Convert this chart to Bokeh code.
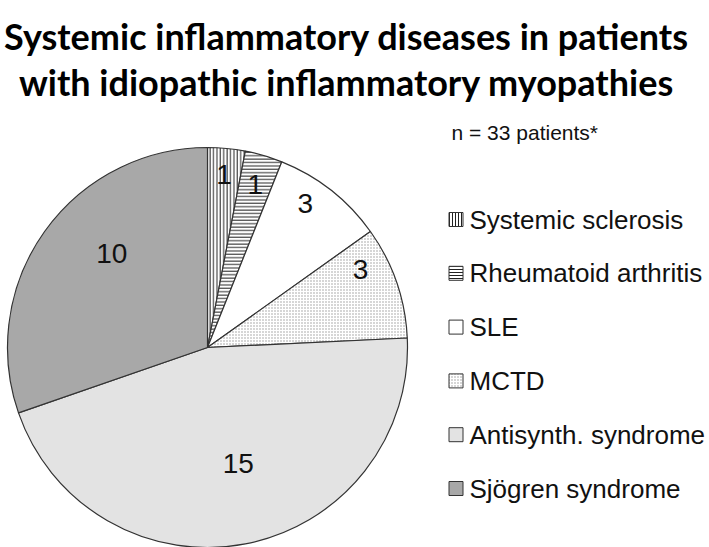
import numpy as np
from bokeh.plotting import figure
from bokeh.models import Range1d, ColumnDataSource
from bokeh.core.properties import value
from bokeh.embed import file_html
from bokeh.resources import INLINE

# ---- data ----
categories = ["Systemic sclerosis", "Rheumatoid arthritis", "SLE", "MCTD",
              "Antisynth. syndrome", "Sjögren syndrome"]
counts = [1, 1, 3, 3, 15, 10]
title_lines = ["Systemic inflammatory diseases in patients",
               "with idiopathic inflammatory myopathies"]
note = "n = 33 patients*"

# ---- styles ----
fills = ["white", "white", "white", "white", "#e3e3e3", "#a8a8a8"]
hatches = ["vertical_line", "horizontal_line", "blank", "dot", "blank", "blank"]
hatch_colors = ["#222222", "#222222", "#222222", "#999999", "#222222", "#222222"]
hatch_scales = [3.4, 3.4, 3.4, 3.0, 3.4, 3.4]
label_frac = [0.87, 0.85, 0.87, 0.86, 0.60, 0.67]
label_nudge_deg = [0, 0, 4, 8, 4, -9]

W, H = 709, 547
p = figure(width=W, height=H, output_backend="svg", toolbar_location=None,
           x_range=Range1d(0, W), y_range=Range1d(0, H), min_border=0)
p.axis.visible = False
p.grid.visible = False
p.outline_line_color = None
p.background_fill_color = "white"

cx, cy, R = 207, 200, 200
vals = np.array(counts, dtype=float)
tot = vals.sum()
cum = np.concatenate([[0], np.cumsum(vals)])
end_ang = np.pi / 2 - 2 * np.pi * cum[:-1] / tot
start_ang = np.pi / 2 - 2 * np.pi * cum[1:] / tot
mid = (start_ang + end_ang) / 2

src = ColumnDataSource(dict(start=start_ang, end=end_ang, fill=fills, hatch=hatches,
                            hc=hatch_colors, hs=hatch_scales))
p.wedge(x=cx, y=cy, radius=R, start_angle="start", end_angle="end", source=src,
        fill_color="fill", line_color="#333333", line_width=1.2,
        hatch_pattern="hatch", hatch_color="hc", hatch_scale="hs", hatch_weight=1)

ang = mid + np.deg2rad(label_nudge_deg)
lx = cx + R * np.array(label_frac) * np.cos(ang)
ly = cy + R * np.array(label_frac) * np.sin(ang)
p.text(x=lx, y=ly, text=[str(c) for c in counts], text_align="center",
       text_baseline="middle", text_font=value("Liberation Sans"),
       text_font_size="28px", text_color="#111111")

# title
p.text(x=[346, 346], y=[512, 466], text=title_lines, text_align="center",
       text_baseline="middle", text_font=value("Lato"), text_font_style="bold",
       text_font_size="36px", text_color="black")

# note
p.text(x=[451], y=[415], text=[note], text_align="left", text_baseline="middle",
       text_font=value("Liberation Sans"), text_font_size="21px", text_color="#111111")

# legend
rows = np.arange(len(categories))
ly_leg = 328 - rows * 53.8
lsrc = ColumnDataSource(dict(y=ly_leg, fill=fills, hatch=hatches, hc=hatch_colors,
                             hs=[3.0] * len(categories)))
p.rect(x=455.5, y="y", width=14, height=14, source=lsrc, fill_color="fill",
       line_color="#333333", line_width=1, hatch_pattern="hatch", hatch_color="hc",
       hatch_scale="hs", hatch_weight=1)
p.text(x=469, y=ly_leg, text=categories, text_align="left", text_baseline="middle",
       text_font=value("Liberation Sans"), text_font_size="26px", text_color="#111111")

open("out.html", "w").write(file_html(p, INLINE))
